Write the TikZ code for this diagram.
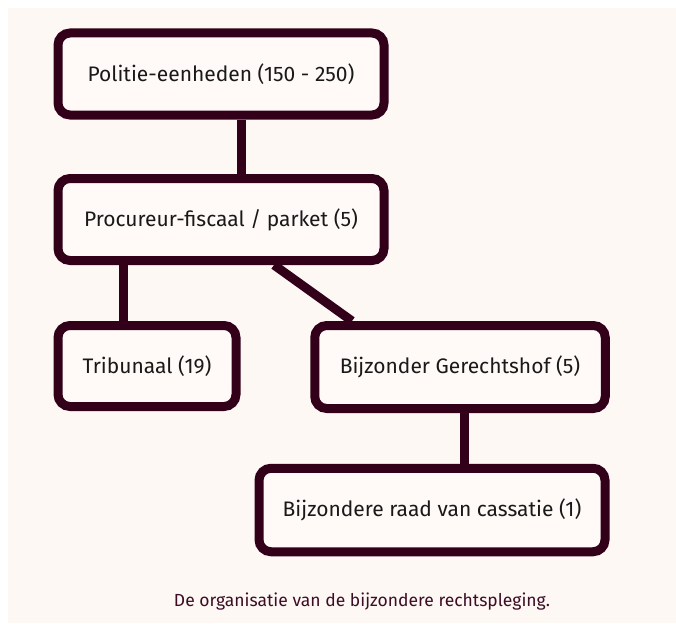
\documentclass[tikz,border=0pt]{standalone}
\usepackage{fontspec}
\setmainfont{Fira Sans}
\definecolor{maroon}{HTML}{33001A}
\definecolor{cream}{HTML}{FDF8F4}
\definecolor{boxfill}{HTML}{FFFAF7}
\definecolor{captioncol}{HTML}{3D0C25}

\begin{document}
\begin{tikzpicture}[x=1pt, y=-1pt,
  orgbox/.style={rectangle, draw=maroon, fill=boxfill, line width=9pt,
    rounded corners=12pt, align=center, inner sep=0pt,
    font=\fontsize{21}{25}\selectfont, text=black!90},
  link/.style={draw=maroon, line width=9pt}]
  \useasboundingbox (0,0) rectangle (676,623);
  \fill[white] (0,0) rectangle (676,623);
  \fill[cream] (8,8) rectangle (676,623);

  \node[orgbox, minimum width=326pt, minimum height=82pt] (politie) at (221,74) {Politie-eenheden (150 - 250)};
  \node[orgbox, minimum width=326pt, minimum height=82pt] (parket) at (221,219.5) {Procureur-fiscaal / parket (5)};
  \node[orgbox, minimum width=178pt, minimum height=81pt] (tribunaal) at (147,366) {Tribunaal (19)};
  \node[orgbox, minimum width=290.5pt, minimum height=83pt] (hof) at (460,367) {Bijzonder Gerechtshof (5)};
  \node[orgbox, minimum width=346pt, minimum height=83.5pt] (cassatie) at (432,510) {Bijzondere raad van cassatie (1)};

  \draw[link] ([xshift=20.5pt]politie.south) -- ([xshift=20.5pt]parket.north);
  \draw[link] ([xshift=-23.5pt]tribunaal.north) -- ([xshift=-23.5pt]tribunaal.north |- parket.south);
  \draw[link] ([xshift=53pt]parket.south) -- ([xshift=-108pt]hof.north);
  \draw[link] ([xshift=4pt]hof.south) -- ([xshift=4pt]hof.south |- cassatie.north);

  \node[font=\fontsize{17.5}{21}\selectfont, text=captioncol] (caption) at (362,602) {De organisatie van de bijzondere rechtspleging.};
\end{tikzpicture}
\end{document}
